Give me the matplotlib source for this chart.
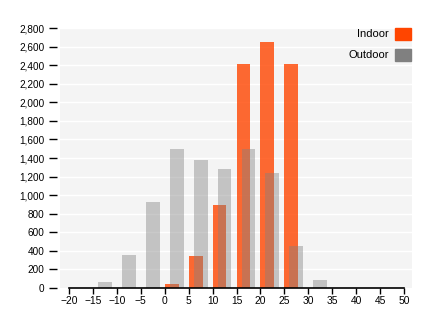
import numpy as np
import matplotlib.pyplot as plt
from matplotlib.patches import Rectangle

plt.rcParams["font.family"] = ["Liberation Sans", "DejaVu Sans"]

# histogram bins (left edge of each 5-degree bin) and counts
bins = [-15, -10, -5, 0, 5, 10, 15, 20, 25, 30]
outdoor = [65, 355, 930, 1497, 1375, 1285, 1497, 1235, 452, 83]
indoor = [0, 0, 0, 40, 345, 897, 2416, 2649, 2416, 0]

x_ticks = list(range(-20, 55, 5))
y_ticks = list(range(0, 3000, 200))

BG = "#f4f4f4"
INDOOR = "#ff4500"
OUTDOOR = "#808080"
BAR_W = 2.9

fig = plt.figure(figsize=(4.4, 3.26), dpi=100)
W, H = 440, 326
ax = fig.add_axes([60 / W, 38 / H, 352 / W, 260 / H])
ax.set_facecolor(BG)

px = 335 / 70  # pixels per degree
ax.set_xlim(-20 - 9 / px, -20 - 9 / px + 352 / px)
ax.set_ylim(0, 2800)

for y in y_ticks[1:]:
    ax.axhline(y, color="white", lw=1, zorder=1)

b = np.array(bins)
ax.bar(b, indoor, width=BAR_W, align="edge", color=INDOOR, alpha=0.8,
       zorder=2, lw=0)
ax.bar(b + 1.05, outdoor, width=BAR_W, align="edge", color=OUTDOOR,
       alpha=0.42, zorder=3, lw=0)

for s in ax.spines.values():
    s.set_visible(False)
ax.spines["left"].set_position(("outward", 2))

# x axis line only across the tick range
ax.plot([-20, 50], [0, 0], color="black", lw=1.2, clip_on=False, zorder=5)

ax.set_xticks(x_ticks)
ax.set_yticks(y_ticks)
ax.set_yticklabels([f"{v:,}" for v in y_ticks])
ax.tick_params(axis="x", direction="out", length=4, width=1, pad=2,
               labelsize=7.4, colors="black")
ax.tick_params(axis="y", direction="out", length=6, width=1, pad=3,
               labelsize=7.2, colors="black")

# legend, drawn in figure pixels
def px2fig(xp, yp):
    return xp / W, 1 - yp / H

for label, color, ytop in [("Indoor", INDOOR, 28), ("Outdoor", OUTDOOR, 48.5)]:
    x0, y0 = px2fig(395, ytop + 12)
    fig.patches.append(Rectangle((x0, y0), 16 / W, 12 / H, color=color,
                                 transform=fig.transFigure, figure=fig))
    tx, ty = px2fig(389, ytop + 6)
    fig.text(tx, ty, label, ha="right", va="center", fontsize=8)

fig.savefig("out.png", dpi=100)
